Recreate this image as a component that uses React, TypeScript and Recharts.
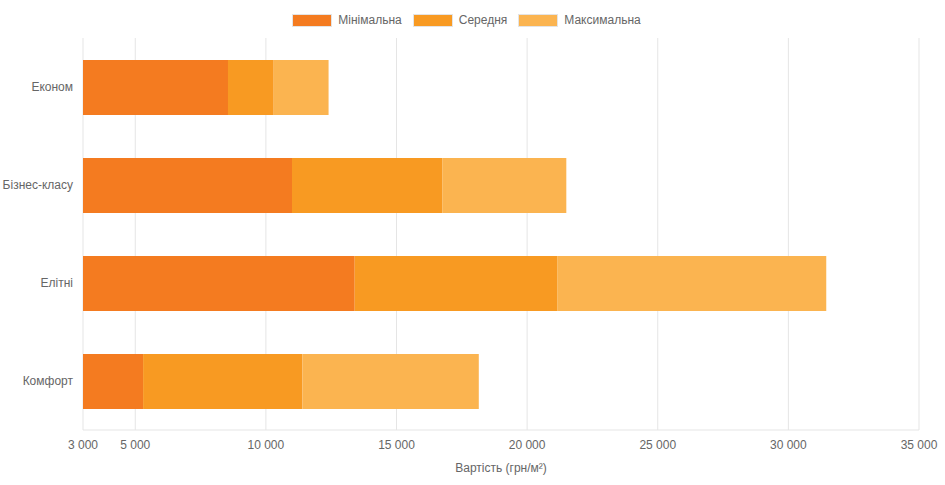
import React from 'react';
import { BarChart, Bar, XAxis, YAxis, CartesianGrid, Legend } from 'recharts';

const categories = ['Економ', 'Бізнес-класу', 'Елітні', 'Комфорт'];
const minValues = [8550, 11000, 13400, 5300];
const avgValues = [10300, 16750, 21150, 11400];
const maxValues = [12400, 21500, 31450, 18150];
const xTicks = [3000, 5000, 10000, 15000, 20000, 25000, 30000, 35000];

const seriesNames = ['Мінімальна', 'Середня', 'Максимальна'];
const seriesColors = ['#F47B20', '#F89A22', '#FBB450'];

const data = categories.map((name, i) => ({
  name,
  min: minValues[i],
  avg: avgValues[i],
  max: maxValues[i],
}));

const fmt = (v: number) => String(v).replace(/\B(?=(\d{3})+(?!\d))/g, ' ');

const FONT = '"Liberation Sans", Arial, Helvetica, sans-serif';

const LegendContent = () => (
  <div
    style={{
      width: 945,
      height: 38,
      boxSizing: 'border-box',
      paddingTop: 14,
      paddingRight: 12,
      display: 'flex',
      justifyContent: 'center',
      alignItems: 'flex-start',
      fontFamily: FONT,
      fontSize: 12,
      color: '#666',
    }}
  >
    {seriesNames.map((n, i) => (
      <div key={n} style={{ display: 'flex', alignItems: 'center', marginRight: i < 2 ? 11 : 0 }}>
        <div
          style={{
            width: 40,
            height: 13,
            boxSizing: 'border-box',
            background: seriesColors[i],
            border: '1px solid #e4e4e4',
            marginRight: 6,
          }}
        />
        <span style={{ lineHeight: '13px' }}>{n}</span>
      </div>
    ))}
  </div>
);

export default function App() {
  return (
    <div style={{ position: 'absolute', left: 0, top: 0, width: 945, height: 485, fontFamily: FONT, background: '#fff' }}>
      <BarChart
        width={945}
        height={485}
        data={data}
        layout="vertical"
        margin={{ top: 0, right: 26, bottom: 0, left: 0 }}
        barSize={55}
        barGap={-55}
      >
        <Legend
          verticalAlign="top"
          align="center"
          content={LegendContent}
          wrapperStyle={{ left: 0, top: 0, width: 945, height: 38 }}
        />
        <CartesianGrid horizontal={false} vertical={true} stroke="#e5e5e5" />
        <XAxis
          type="number"
          domain={[3000, 35000]}
          ticks={xTicks}
          allowDataOverflow
          tickFormatter={fmt}
          tickLine={false}
          tickSize={0}
          tickMargin={10}
          axisLine={{ stroke: '#e5e5e5' }}
          tick={{ fill: '#666', fontSize: 12, fontFamily: FONT }}
          height={55}
          label={{ value: 'Вартість (грн/м²)', position: 'insideBottom', offset: 13, fill: '#666', fontSize: 12, fontFamily: FONT }}
        />
        <XAxis
          xAxisId="top"
          orientation="top"
          type="number"
          domain={[3000, 35000]}
          ticks={xTicks}
          tick={false}
          tickLine={false}
          axisLine={{ stroke: '#bdbdbd' }}
          height={0}
        />
        <YAxis
          type="category"
          dataKey="name"
          width={83}
          tickLine={false}
          tickSize={0}
          tickMargin={10}
          axisLine={false}
          tick={{ fill: '#666', fontSize: 12, fontFamily: FONT }}
        />
        <Bar dataKey="min" name={seriesNames[0]} fill={seriesColors[0]} isAnimationActive={false} />
        <Bar dataKey={(d: any) => [d.min, d.avg]} name={seriesNames[1]} fill={seriesColors[1]} isAnimationActive={false} />
        <Bar dataKey={(d: any) => [d.avg, d.max]} name={seriesNames[2]} fill={seriesColors[2]} isAnimationActive={false} />
      </BarChart>
    </div>
  );
}
